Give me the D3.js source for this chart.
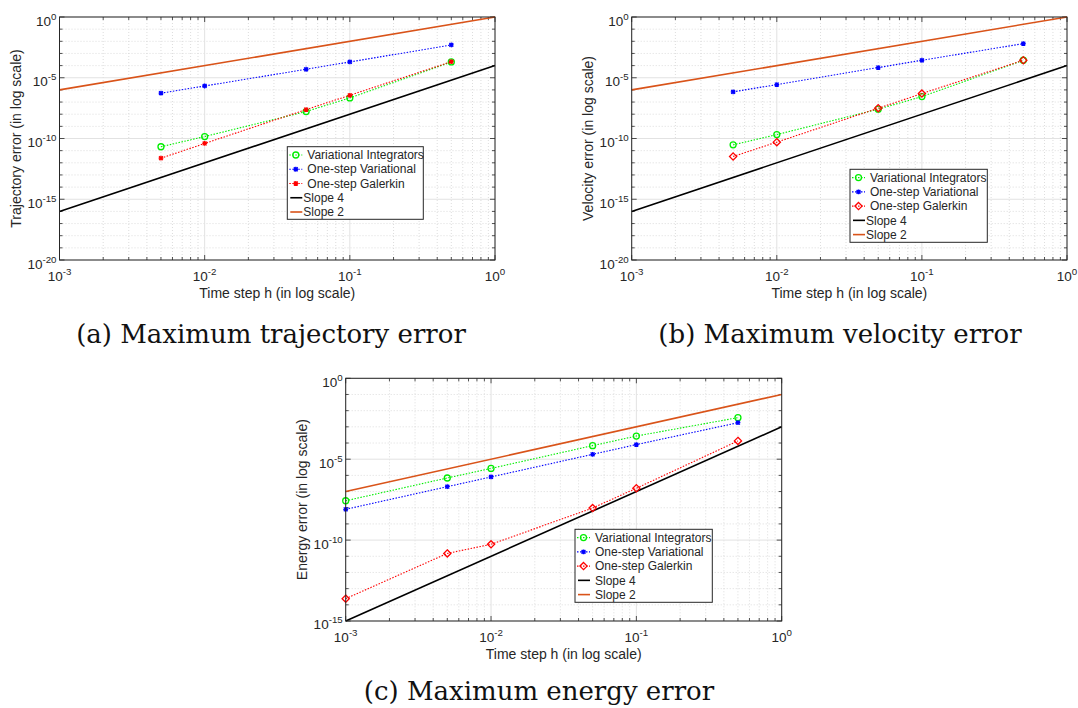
<!DOCTYPE html>
<html lang="en">
<head>
    <meta charset="UTF-8">
    <title>Maximum errors vs time step</title>
    <script src="https://d3js.org/d3.v7.min.js"></script>
    <style>
        body { margin: 0; background: #fff; }
        svg { display: block; }
        .tick-label, .axis-label, .legend text { font-family: "Liberation Sans", Arial, sans-serif; fill: #262626; }
        .caption { font-family: "DejaVu Serif", "Liberation Serif", serif; fill: #111; }
    </style>
</head>
<body>
    <svg width="1078" height="708"></svg>

    <script>
        // time steps
        const hAB = [0.005, 0.01, 0.05, 0.1, 0.5];
        const hC = [0.001, 0.005, 0.01, 0.05, 0.1, 0.5];

        // (a) trajectory error
        const trajVI = [2.1e-11, 1.45e-10, 1.66e-8, 2.2e-7, 2.0e-4];
        const trajOSV = [5.4e-7, 2.1e-6, 5.0e-5, 2.0e-4, 5.0e-3];
        const trajOSG = [2.4e-12, 3.9e-11, 2.4e-8, 3.6e-7, 2.1e-4];

        // (b) velocity error
        const velVI = [3.0e-11, 2.1e-10, 2.6e-8, 2.8e-7, 2.75e-4];
        const velOSV = [6.9e-7, 2.75e-6, 6.9e-5, 2.75e-4, 6.4e-3];
        const velOSG = [3.3e-12, 5.0e-11, 3.1e-8, 5.0e-7, 2.75e-4];

        // (c) energy error
        const enVI = [2.7e-8, 6.9e-7, 2.7e-6, 6.9e-5, 2.7e-4, 3.7e-3];
        const enOSV = [8.0e-9, 2.0e-7, 8.0e-7, 2.0e-5, 8.0e-5, 1.8e-3];
        const enOSG = [2.4e-14, 1.5e-11, 5.5e-11, 9.6e-9, 1.6e-7, 1.35e-4];

        // reference slope lines, end points [h, error]
        const slope4AB = [[1e-3, 1e-16], [1, 1e-4]];
        const slope2AB = [[1e-3, 1e-6], [1, 1]];
        const slope4C = [[1e-3, 1e-15], [1, 1e-3]];
        const slope2C = [[1e-3, 1e-7], [1, 1e-1]];

        // tick exponents
        const xTickExp = [-3, -2, -1, 0];
        const yTickExpAB = [-20, -15, -10, -5, 0];
        const yTickExpC = [-15, -10, -5, 0];

        const legendNames = ["Variational Integrators", "One-step Variational", "One-step Galerkin", "Slope 4", "Slope 2"];
        const colors = { vi: "#00ee00", osv: "#0000ff", osg: "#ff0000", s4: "#000000", s2: "#d95319" };

        const panels = [
            { x0: 59.5, x1: 495, y0: 17, y1: 260, yExp: yTickExpAB, yLabel: "Trajectory error (in log scale)",
              h: hAB, vi: trajVI, osv: trajOSV, osg: trajOSG, s4: slope4AB, s2: slope2AB, galMarker: "star",
              legend: { x: 287.3, y: 146.7, w: 136, h: 72.6, slopeText: 16 },
              caption: "(a) Maximum trajectory error", capX: 271, capY: 343 },
            { x0: 631.7, x1: 1067, y0: 17, y1: 260, yExp: yTickExpAB, yLabel: "Velocity error (in log scale)",
              h: hAB, vi: velVI, osv: velOSV, osg: velOSG, s4: slope4AB, s2: slope2AB, galMarker: "diamond",
              legend: { x: 850, y: 169.3, w: 137.3, h: 73, slopeText: 16 },
              caption: "(b) Maximum velocity error", capX: 840, capY: 343 },
            { x0: 345.7, x1: 781.7, y0: 378.3, y1: 621, yExp: yTickExpC, yLabel: "Energy error (in log scale)",
              h: hC, vi: enVI, osv: enOSV, osg: enOSG, s4: slope4C, s2: slope2C, galMarker: "diamond",
              legend: { x: 575, y: 529.3, w: 137.3, h: 73, slopeText: 20 },
              caption: "(c) Maximum energy error", capX: 539, capY: 700 }
        ];

        const svg = d3.select("svg");

        function drawMarker(g, type, cx, cy, color) {
            if (type === "circle") {
                g.append("circle").attr("cx", cx).attr("cy", cy).attr("r", 3)
                    .attr("fill", "none").attr("stroke", color).attr("stroke-width", 1.3);
            } else if (type === "diamond") {
                const s = 3.6;
                g.append("path").attr("d", `M${cx},${cy - s}L${cx + s},${cy}L${cx},${cy + s}L${cx - s},${cy}Z`)
                    .attr("fill", "none").attr("stroke", color).attr("stroke-width", 1.3);
            } else {
                const s = 2.4;
                g.append("path")
                    .attr("d", `M${cx - s},${cy}H${cx + s}M${cx},${cy - s}V${cy + s}M${cx - s * 0.8},${cy - s * 0.8}L${cx + s * 0.8},${cy + s * 0.8}M${cx - s * 0.8},${cy + s * 0.8}L${cx + s * 0.8},${cy - s * 0.8}`)
                    .attr("stroke", color).attr("stroke-width", 1.3);
            }
        }

        function tickText(sel, exp, fs) {
            sel.append("tspan").text("10");
            sel.append("tspan").attr("dy", -6).attr("font-size", fs * 0.72).text(exp);
        }

        panels.forEach(p => {
            const w = p.x1 - p.x0, ht = p.y1 - p.y0;
            const x = d3.scaleLog().domain([1e-3, 1]).range([0, w]);
            const yMin = Math.pow(10, p.yExp[0]);
            const y = d3.scaleLog().domain([yMin, 1]).range([ht, 0]);
            const g = svg.append("g").attr("transform", `translate(${p.x0},${p.y0})`);

            // minor grid x
            const xMinor = [];
            for (let e = -3; e < 0; e++) for (let m = 2; m <= 9; m++) xMinor.push(m * Math.pow(10, e));
            const yMinor = [];
            for (let e = p.yExp[0]; e <= 0; e++) if (e % 5 !== 0) yMinor.push(Math.pow(10, e));

            g.selectAll(".gxm").data(xMinor).join("line")
                .attr("x1", d => x(d)).attr("x2", d => x(d)).attr("y1", 0).attr("y2", ht)
                .attr("stroke", "#d4d4d4").attr("stroke-width", 0.8).attr("stroke-dasharray", "1,2");
            g.selectAll(".gym").data(yMinor).join("line")
                .attr("y1", d => y(d)).attr("y2", d => y(d)).attr("x1", 0).attr("x2", w)
                .attr("stroke", "#d4d4d4").attr("stroke-width", 0.8).attr("stroke-dasharray", "1,2");
            // major grid
            g.selectAll(".gx").data(xTickExp).join("line")
                .attr("x1", d => x(Math.pow(10, d))).attr("x2", d => x(Math.pow(10, d))).attr("y1", 0).attr("y2", ht)
                .attr("stroke", "#e2e2e2").attr("stroke-width", 1);
            g.selectAll(".gy").data(p.yExp).join("line")
                .attr("y1", d => y(Math.pow(10, d))).attr("y2", d => y(Math.pow(10, d))).attr("x1", 0).attr("x2", w)
                .attr("stroke", "#e2e2e2").attr("stroke-width", 1);

            // ticks inside (bottom/top, left/right)
            const tick = (x1, y1, x2, y2) => g.append("line").attr("x1", x1).attr("y1", y1).attr("x2", x2).attr("y2", y2)
                .attr("stroke", "#262626").attr("stroke-width", 0.8);
            xMinor.forEach(d => { tick(x(d), ht, x(d), ht - 3); tick(x(d), 0, x(d), 3); });
            xTickExp.forEach(e => { const v = x(Math.pow(10, e)); tick(v, ht, v, ht - 5); tick(v, 0, v, 5); });
            yMinor.forEach(d => { tick(0, y(d), 3, y(d)); tick(w, y(d), w - 3, y(d)); });
            p.yExp.forEach(e => { const v = y(Math.pow(10, e)); tick(0, v, 5, v); tick(w, v, w - 5, v); });

            // slope lines
            const line = d3.line().x(d => x(d[0])).y(d => y(d[1]));
            g.append("path").attr("d", line(p.s4)).attr("fill", "none").attr("stroke", colors.s4).attr("stroke-width", 1.6);
            g.append("path").attr("d", line(p.s2)).attr("fill", "none").attr("stroke", colors.s2).attr("stroke-width", 1.6);

            // data series
            const series = [
                { vals: p.vi, color: colors.vi, marker: "circle" },
                { vals: p.osv, color: colors.osv, marker: "star" },
                { vals: p.osg, color: colors.osg, marker: p.galMarker }
            ];
            series.forEach(s => {
                const pts = p.h.map((hv, i) => [hv, s.vals[i]]);
                g.append("path").attr("d", line(pts)).attr("fill", "none").attr("stroke", s.color)
                    .attr("stroke-width", 1.1).attr("stroke-dasharray", "1.5,1.5");
                pts.forEach(pt => drawMarker(g, s.marker, x(pt[0]), y(pt[1]), s.color));
            });

            // box
            g.append("rect").attr("width", w).attr("height", ht).attr("fill", "none")
                .attr("stroke", "#262626").attr("stroke-width", 1);

            // tick labels
            const fs = 13.5;
            xTickExp.forEach(e => {
                const t = g.append("text").attr("class", "tick-label").attr("x", x(Math.pow(10, e))).attr("y", ht + 21)
                    .attr("text-anchor", "middle").attr("font-size", fs);
                tickText(t, e, fs);
            });
            p.yExp.forEach(e => {
                const t = g.append("text").attr("class", "tick-label").attr("x", -3).attr("y", y(Math.pow(10, e)) + 8.5)
                    .attr("text-anchor", "end").attr("font-size", fs);
                tickText(t, e, fs);
            });

            // axis labels
            g.append("text").attr("class", "axis-label").attr("x", w / 2).attr("y", ht + 38)
                .attr("text-anchor", "middle").attr("font-size", 14).text("Time step h (in log scale)");
            g.append("text").attr("class", "axis-label")
                .attr("transform", `translate(${-39},${ht / 2}) rotate(-90)`)
                .attr("text-anchor", "middle").attr("font-size", 14).text(p.yLabel);

            // legend
            const L = p.legend;
            const lg = svg.append("g").attr("class", "legend");
            lg.append("rect").attr("x", L.x).attr("y", L.y).attr("width", L.w).attr("height", L.h)
                .attr("fill", "#fff").attr("stroke", "#262626").attr("stroke-width", 1);
            legendNames.forEach((name, i) => {
                const cy = L.y + 8.3 + i * 14.25;
                if (i < 3) {
                    const s = series[i];
                    lg.append("line").attr("x1", L.x + 2).attr("x2", L.x + 15).attr("y1", cy).attr("y2", cy)
                        .attr("stroke", s.color).attr("stroke-width", 1.1).attr("stroke-dasharray", "1.5,1.5");
                    drawMarker(lg, s.marker, L.x + 8.5, cy, s.color);
                    lg.append("text").attr("x", L.x + 20).attr("y", cy + 4.2).attr("font-size", 12).text(name);
                } else {
                    lg.append("line").attr("x1", L.x + 3).attr("x2", L.x + 15).attr("y1", cy).attr("y2", cy)
                        .attr("stroke", i === 3 ? colors.s4 : colors.s2).attr("stroke-width", 1.6);
                    lg.append("text").attr("x", L.x + L.slopeText).attr("y", cy + 4.2).attr("font-size", 12).text(name);
                }
            });

            // caption
            svg.append("text").attr("class", "caption").attr("x", p.capX).attr("y", p.capY)
                .attr("text-anchor", "middle").attr("font-size", 26).text(p.caption);
        });
    </script>
</body>
</html>
